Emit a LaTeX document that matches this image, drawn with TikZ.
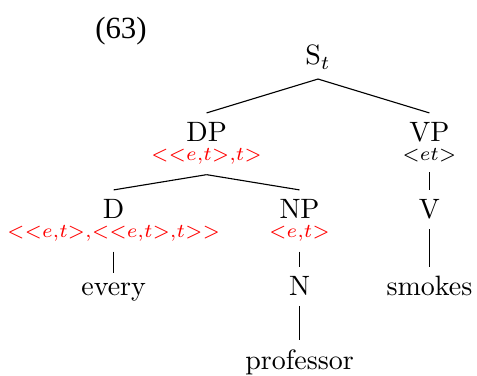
\documentclass[tikz,border=0pt]{standalone}
\usepackage{fontspec}
\usepackage{tikz}
\usetikzlibrary{trees,positioning}
\newfontfamily\exfont{Liberation Serif}
\tikzstyle{cat}=[anchor=base,inner sep=3.33pt]
\newcommand{\redty}[1]{{\fontsize{7.5pt}{9pt}\selectfont\color{red}$#1$}}
\newcommand{\blackty}[1]{{\fontsize{7.5pt}{9pt}\selectfont$#1$}}
% category over its type, baseline on the category
\newcommand{\catty}[2]{\vtop{\baselineskip=6.8pt\lineskiplimit=-10pt
  \halign{\hfil##\hfil\cr #1\cr #2\cr}}}

\begin{document}
\begin{tikzpicture}[thin,
level 1/.style={sibling distance=79.6pt},
level 2/.style={sibling distance=66.4pt},
level 4/.style={level distance=26.4pt},
level distance=27.5pt,growth parent anchor=base,
edge from parent path={(\tikzparentnode.south) -- (\tikzchildnode.north)}]
\useasboundingbox (-113.6pt,-111.1pt) rectangle (56.8pt,23.2pt);
\node [cat] (s) {S$_t$}
    child {
        node [cat] (dp) {\catty{DP}{\redty{{<}{<}e{,}t{>}{,}t{>}}}}
        child {
            node [cat] (d) {\catty{D}{\redty{{<}{<}e{,}t{>}{,}{<}{<}e{,}t{>}{,}t{>}{>}}}}
            child {
                node [cat] (every) {every}
            }
        }
        child {
            node [cat] (np) {\catty{NP}{\redty{{<}e{,}t{>}}}}
            child {
                node [cat] (n) {N}
                child {
                    node [cat] (prof) {professor}
                }
            }
        }
    }
    child {
        node [cat] (vp) {\catty{VP}{\blackty{{<}et{>}}}}
        child {
            node [cat] (v) {V}
            child {
                node [cat] (smokes) {smokes}
            }
        }
    };
\node [font=\exfont\fontsize{11}{13}\selectfont,anchor=base] (ex) at (-70.4pt,9.3pt) {(63)};
\end{tikzpicture}
\end{document}
